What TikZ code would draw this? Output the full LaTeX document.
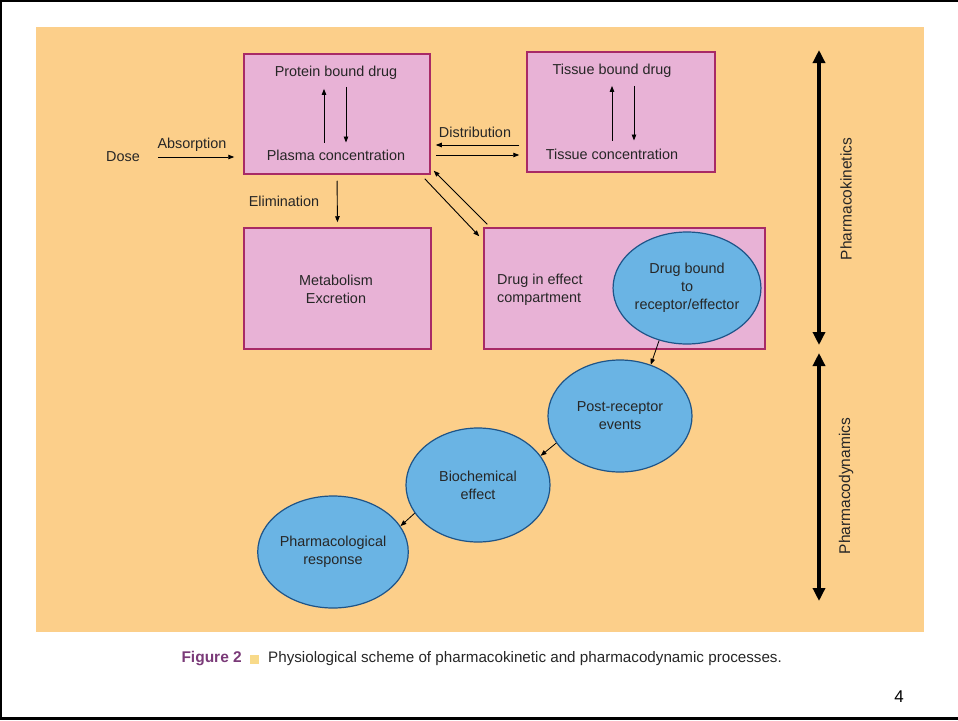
\documentclass[tikz,border=0pt]{standalone}
\usepackage{fontspec}
\setmainfont{Liberation Sans}
\usetikzlibrary{arrows.meta,shapes.geometric,calc}
\definecolor{bg}{HTML}{FCCF8A}
\definecolor{pinkf}{HTML}{E8B2D6}
\definecolor{pinkd}{HTML}{A82A66}
\definecolor{bluef}{HTML}{6AB4E4}
\definecolor{blued}{HTML}{1E5488}
\definecolor{txt}{HTML}{262626}
\definecolor{figc}{HTML}{7A3A78}
\definecolor{sq}{HTML}{F8DA8A}
\begin{document}
\begin{tikzpicture}[x=1pt,y=-1pt,
  box/.style={draw=pinkd, fill=pinkf, line width=1.5pt, inner sep=0pt},
  ell/.style={ellipse, draw=blued, fill=bluef, line width=1.2pt, minimum width=144pt, minimum height=112pt, inner sep=0pt, align=center, text=txt, font=\fontsize{14.4}{18}\selectfont},
  lab/.style={text=txt, font=\fontsize{14.4}{18}\selectfont, inner sep=1pt},
  arr/.style={-{Triangle[length=6pt,width=4.5pt]}, line width=0.9pt, black},
  bigarr/.style={{Triangle[length=13pt,width=12pt]}-{Triangle[length=13pt,width=12pt]}, line width=4pt, black}
]
\useasboundingbox (0,0) rectangle (958,720);
\draw[line width=2.5pt] (958,1) -- (1,1) -- (1,718.5) -- (958,718.5);
\fill[bg] (36,27) rectangle (924,632);

% boxes
\node[box, minimum width=186pt, minimum height=120pt] (pbox) at (337,114) {};
\node[box, minimum width=188pt, minimum height=120pt] (tbox) at (621,112) {};
\node[box, minimum width=187pt, minimum height=121pt] (mbox) at (337.5,288.5) {};
\node[box, minimum width=281pt, minimum height=121pt] (ebox) at (624.5,288.5) {};

% texts in boxes
\node[lab] (prot) at (336,73) {Protein bound drug};
\node[lab] (plasma) at (336,155) {Plasma concentration};
\node[lab] (tbd) at (612,71) {Tissue bound drug};
\node[lab] (tconc) at (612,154) {Tissue concentration};
\node[lab, align=center] (metab) at (336,289) {Metabolism\\Excretion};
\node[lab, align=left, anchor=west] (effc) at (496,290) {Drug in effect\\compartment};

% labels outside
\node[lab] (dose) at (123,157) {Dose};
\node[lab] (absorp) at (192,145) {Absorption};
\node[lab] (distr) at (475,132) {Distribution};
\node[lab] (elim) at (284,201) {Elimination};

% ellipses
\node[ell] (db) at (687,288) {Drug bound\\to\\receptor/effector};
\node[ell] (post) at (620,416) {Post-receptor\\events};
\node[ell, minimum height=114pt] (bio) at (478,485) {Biochemical\\effect};
\node[ell] (pharm) at (333,552) {Pharmacological\\response};

% connectors
\draw[arr, shorten <=17pt, shorten >=9pt] (dose.east) -- (dose.east -| pbox.west);
\draw[arr] ($(plasma.north)+(-12,-6)$) -- ($(prot.south)+(-12,8)$);
\draw[arr] ($(prot.south)+(10,6)$) -- ($(plasma.north)+(10,-6)$);
\draw[arr] ($(tconc.north)+(0,-7)$) -- ($(tbd.south)+(0,7)$);
\draw[arr] ($(tbd.south)+(22,7)$) -- ($(tconc.north)+(22,-7)$);
\draw[arr, shorten <=7pt, shorten >=5pt] (tbox.west |- 0,145) -- (pbox.east |- 0,145);
\draw[arr, shorten <=5pt, shorten >=7pt] (pbox.east |- 0,155) -- (tbox.west |- 0,155);
\draw[arr, shorten <=6pt, shorten >=5pt] (pbox.south) -- (mbox.north);
\draw[arr] ($(pbox.south east)+(-6,4)$) -- ($(ebox.north west)+(-4,9)$);
\draw[arr] ($(ebox.north west)+(4,-3)$) -- ($(pbox.south east)+(3,-4)$);
\draw[arr, line width=0.8pt] (db.242) -- (post.59);
\draw[arr, line width=0.8pt] (post.203) -- (bio.25);
\draw[arr, line width=0.8pt] (bio.204) -- (pharm.21);

% side arrows
\coordinate (k1) at (819,50);
\coordinate (k2) at (819,345);
\coordinate (d1) at (819,353);
\coordinate (d2) at (819,601);
\draw[bigarr] (k1) -- (k2);
\draw[bigarr] (d1) -- (d2);
\node[lab, rotate=90, font=\fontsize{15.5}{15.5}\selectfont] (pk) at (846,199) {Pharmacokinetics};
\node[lab, rotate=90, font=\fontsize{15.5}{15.5}\selectfont] (pd) at (846,486) {Pharmacodynamics};

% caption
\node[font=\bfseries\fontsize{15.5}{15.5}\selectfont, text=figc, anchor=east, inner sep=0pt] (fig) at (242,659) {Figure 2};
\node[fill=sq, minimum size=9pt, inner sep=0pt] (sqr) at (254.5,659) {};
\node[lab, anchor=west, inner sep=0pt, font=\fontsize{15.2}{16}\selectfont] (cap) at (268,659) {Physiological scheme of pharmacokinetic and pharmacodynamic processes.};
\node[font=\fontsize{17}{17}\selectfont, inner sep=0pt] (pg) at (899,697) {4};
\end{tikzpicture}
\end{document}
